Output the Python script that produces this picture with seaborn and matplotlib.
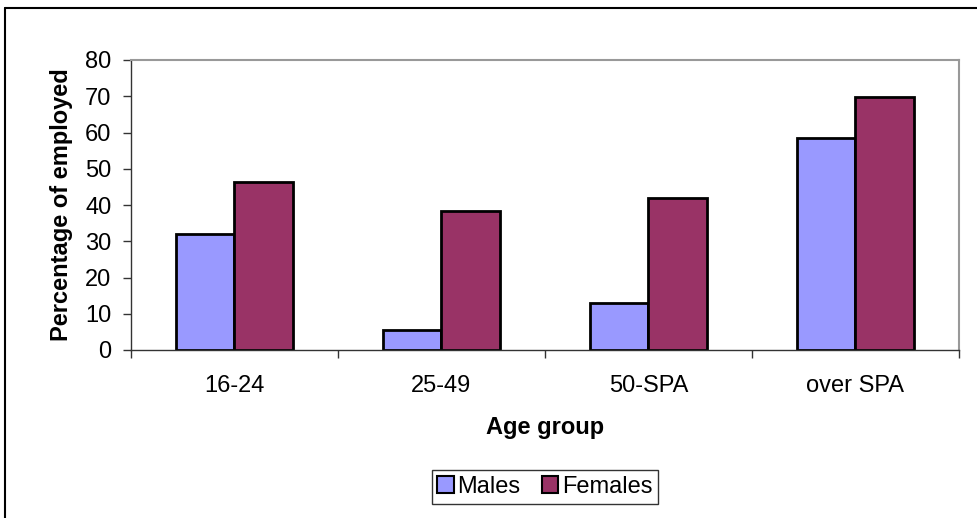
import pandas as pd
import seaborn as sns
import matplotlib.pyplot as plt
from matplotlib.lines import Line2D

# data
age_groups = ["16-24", "25-49", "50-SPA", "over SPA"]
males = [31.9, 5.5, 12.9, 58.4]
females = [46.4, 38.4, 41.8, 69.7]

df = pd.DataFrame({
    "Age group": age_groups * 2,
    "value": males + females,
    "sex": ["Males"] * 4 + ["Females"] * 4,
})

sns.set_style("white")
plt.rcParams["font.family"] = ["Liberation Sans", "DejaVu Sans"]
plt.rcParams["text.color"] = "black"
plt.rcParams["axes.labelcolor"] = "black"
fs = 17

fig = plt.figure(figsize=(9.78, 5.18), dpi=100)
ax = fig.add_axes([131 / 978, 1 - 350 / 518, (959 - 131) / 978, 290 / 518])

sns.barplot(data=df, x="Age group", y="value", hue="sex",
            palette={"Males": "#9999FF", "Females": "#993366"},
            width=0.57, gap=0, edgecolor="black", linewidth=2,
            saturation=1, ax=ax, legend=False)

ax.set_xlim(-0.5, 3.5)
ax.set_ylim(0, 80)
ax.set_yticks(range(0, 81, 10))
ax.set_xticks(range(4))
ax.set_xticklabels(age_groups)
ax.set_xticks([i - 0.5 for i in range(5)], minor=True)
ax.tick_params(axis="x", which="major", length=0, pad=18, labelsize=fs, labelcolor="black")
ax.tick_params(axis="x", which="minor", length=6, width=1, color="#333333", direction="out")
ax.tick_params(axis="y", length=6, width=1, color="#333333", direction="out",
               labelsize=fs, pad=8, labelcolor="black")
ax.tick_params(bottom=True, left=True, which="both")

for side in ["top", "right"]:
    ax.spines[side].set_visible(True)
    ax.spines[side].set_color("#999999")
    ax.spines[side].set_linewidth(1.5)
for side in ["left", "bottom"]:
    ax.spines[side].set_color("#333333")
    ax.spines[side].set_linewidth(1)

ax.set_xlabel("Age group", fontsize=fs, fontweight="bold", labelpad=14)
ax.set_ylabel("Percentage of employed", fontsize=fs, fontweight="bold", labelpad=9)

handles = [plt.Rectangle((0, 0), 1, 1, facecolor="#9999FF", edgecolor="black", linewidth=1.5),
           plt.Rectangle((0, 0), 1, 1, facecolor="#993366", edgecolor="black", linewidth=1.5)]
leg = fig.legend(handles, ["Males", "Females"], loc="center",
                 bbox_to_anchor=(545 / 978, 1 - 487 / 518), ncol=2,
                 fontsize=fs, frameon=True, fancybox=False, edgecolor="black",
                 handlelength=0.7, handleheight=0.7, handletextpad=0.15,
                 columnspacing=0.9, borderpad=0.25, borderaxespad=0)
leg.get_frame().set_linewidth(1)

# outer chart border
fig.add_artist(Line2D([4.5 / 978, 4.5 / 978], [0, 1 - 8 / 518], color="black", linewidth=1.5))
fig.add_artist(Line2D([4.5 / 978, 1], [1 - 8 / 518, 1 - 8 / 518], color="black", linewidth=1.5))

fig.savefig("out.png", dpi=100)
